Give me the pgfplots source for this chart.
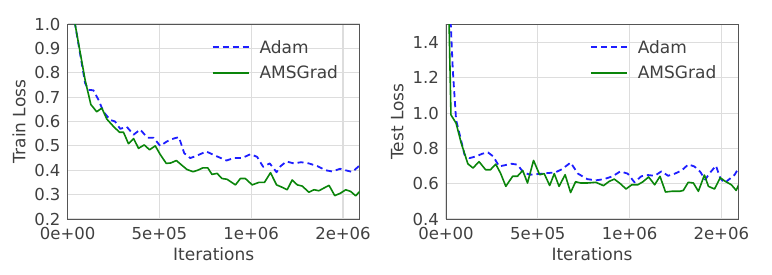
\documentclass[border=0pt]{standalone}
\usepackage{fontspec}
\setmainfont{DejaVu Sans}
\usepackage{pgfplots}
\pgfplotsset{compat=1.18}
\definecolor{txt}{HTML}{404040}
\definecolor{gridc}{HTML}{DDDDDD}
\definecolor{frame}{HTML}{555555}
\definecolor{amsg}{HTML}{0A850A}
\definecolor{adam}{HTML}{1E1EFF}
\pgfplotsset{
  myax/.style={
    scale only axis, width=292pt, height=195pt, anchor=south west,
    xmin=0, xmax=1591000,
    xtick={0,500000,1000000,1500000},
    xticklabels={0e+00,5e+05,1e+06,2e+06},
    scaled x ticks=false,
    /pgf/number format/assume math mode=true,
    tick style={draw=none},
    grid=major, major grid style={gridc, line width=1.2pt},
    axis line style={frame, line width=0.9pt},
    tick label style={font=\fontsize{16.5}{17}\selectfont, text=txt, inner sep=0pt},
    xticklabel shift=8pt, yticklabel shift=7pt,
    every axis x label/.style={at={(axis description cs:0.5,0)}, anchor=base,
      yshift=-41pt, inner sep=0pt, font=\fontsize{17}{18}\selectfont, text=txt},
    every axis y label/.style={at={(axis description cs:0,0.5)}, anchor=center,
      xshift=-48.7pt, rotate=90, inner sep=0pt, font=\fontsize{17}{18}\selectfont, text=txt},
    xlabel={Iterations},
    yticklabel style={/pgf/number format/.cd, fixed, fixed zerofill, precision=1},
    legend style={draw=none, fill=none, font=\fontsize{17}{18}\selectfont,
      row sep=7.3pt, anchor=north west, at={(0.482,0.939)}},
    legend cell align=left,
    legend image code/.code={\draw[#1] (0pt,0pt) -- (36pt,0pt);
      \path[draw=none] (0pt,0pt) -- (45pt,0pt);},
    every axis plot/.append style={line join=round},
  },
  adamst/.style={draw=adam, line width=1.8pt, dash pattern=on 6pt off 4pt},
  amsgst/.style={draw=amsg, line width=1.6pt},
}
\begin{document}
\begin{tikzpicture}
\useasboundingbox (0,0) rectangle (772pt,274pt);
\begin{axis}[myax, at={(67.7pt,55pt)}, ymin=0.2, ymax=1.0,
  ytick={0.2,0.3,...,1.0}, ylabel={Train Loss}]
\addplot[adamst] coordinates {
(30000,1.05)(40000,1.0)(67000,0.88)(95000,0.757)(113000,0.73)(140000,0.728)(167000,0.69)
(195000,0.64)(231000,0.607)(258000,0.60)(286000,0.57)(322000,0.578)(359000,0.546)
(395000,0.567)(435000,0.533)(468000,0.533)(504000,0.50)(540000,0.518)(577000,0.53)
(606000,0.536)(635000,0.47)(668000,0.45)(704000,0.46)(755000,0.477)(804000,0.46)
(865000,0.44)(905000,0.45)(950000,0.45)(996000,0.466)(1032000,0.455)(1065000,0.414)
(1101000,0.428)(1138000,0.392)(1160000,0.417)(1192000,0.436)(1232000,0.428)
(1272000,0.433)(1314000,0.428)(1360000,0.417)(1405000,0.40)(1442000,0.395)
(1484000,0.406)(1524000,0.398)(1551000,0.393)(1591000,0.42)};
\addlegendentry{\textcolor{txt}{Adam}}
\addplot[amsgst] coordinates {
(30000,1.05)(40000,1.0)(95000,0.77)(126000,0.67)(158000,0.64)(186000,0.655)(213000,0.61)
(249000,0.58)(282000,0.556)(304000,0.556)(331000,0.509)(359000,0.53)(386000,0.49)
(417000,0.504)(446000,0.484)(477000,0.50)(504000,0.465)(537000,0.428)(562000,0.43)
(592000,0.44)(623000,0.42)(650000,0.403)(683000,0.394)(708000,0.40)(737000,0.41)
(763000,0.41)(786000,0.383)(814000,0.387)(841000,0.366)(868000,0.363)(914000,0.34)
(941000,0.366)(968000,0.366)(1005000,0.34)(1041000,0.35)(1072000,0.35)(1105000,0.39)
(1138000,0.34)(1169000,0.33)(1196000,0.32)(1223000,0.36)(1251000,0.34)(1278000,0.335)
(1314000,0.31)(1342000,0.32)(1369000,0.316)(1396000,0.327)(1424000,0.338)
(1455000,0.296)(1484000,0.305)(1515000,0.32)(1542000,0.313)(1569000,0.295)(1591000,0.313)};
\addlegendentry{\textcolor{txt}{AMSGrad}}
\end{axis}
\begin{axis}[myax, at={(446pt,55pt)}, ymin=0.4, ymax=1.505,
  ytick={0.4,0.6,...,1.4}, ylabel={Test Loss}]
\addplot[adamst] coordinates {
(15000,2.2)(22000,1.6)(37000,1.245)(55000,0.962)(77000,0.868)(101000,0.764)(128000,0.745)
(165000,0.755)(198000,0.77)(229000,0.777)(257000,0.755)(290000,0.698)(326000,0.706)
(358000,0.713)(389000,0.708)(422000,0.664)(458000,0.651)(504000,0.655)(550000,0.66)
(596000,0.664)(633000,0.683)(679000,0.72)(719000,0.657)(770000,0.626)(816000,0.619)
(862000,0.626)(908000,0.642)(950000,0.67)(990000,0.657)(1027000,0.608)(1064000,0.642)
(1100000,0.649)(1137000,0.645)(1174000,0.67)(1210000,0.645)(1247000,0.657)
(1284000,0.675)(1320000,0.709)(1353000,0.698)(1385000,0.668)(1412000,0.623)
(1440000,0.664)(1471000,0.702)(1494000,0.632)(1518000,0.604)(1544000,0.626)
(1573000,0.651)(1599000,0.698)};
\addlegendentry{\textcolor{txt}{Adam}}
\addplot[amsgst] coordinates {
(10000,2.2)(15000,1.6)(27000,0.99)(55000,0.943)(83000,0.83)(119000,0.713)(147000,0.689)
(180000,0.725)(216000,0.679)(242000,0.679)(271000,0.711)(297000,0.66)(326000,0.585)
(363000,0.642)(389000,0.642)(418000,0.675)(444000,0.604)(477000,0.732)(510000,0.651)
(535000,0.657)(565000,0.59)(590000,0.657)(616000,0.585)(649000,0.651)(679000,0.55)
(706000,0.611)(734000,0.604)(770000,0.604)(816000,0.608)(858000,0.589)(889000,0.613)
(917000,0.626)(950000,0.60)(981000,0.57)(1012000,0.594)(1045000,0.594)(1073000,0.611)
(1104000,0.638)(1137000,0.594)(1166000,0.642)(1196000,0.553)(1229000,0.557)
(1274000,0.557)(1293000,0.562)(1320000,0.608)(1348000,0.604)(1375000,0.557)
(1408000,0.649)(1430000,0.585)(1463000,0.57)(1494000,0.634)(1522000,0.613)
(1555000,0.594)(1581000,0.562)(1599000,0.604)};
\addlegendentry{\textcolor{txt}{AMSGrad}}
\end{axis}
\end{tikzpicture}
\end{document}
